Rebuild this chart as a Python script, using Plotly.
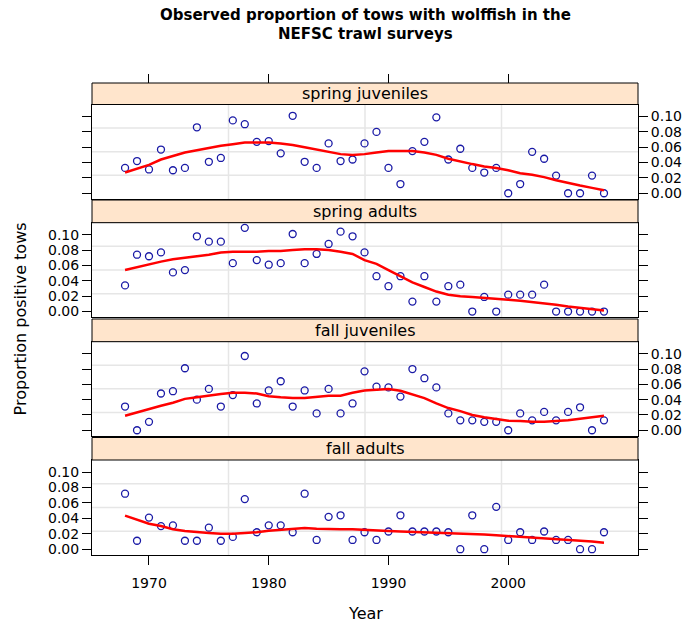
import plotly.graph_objects as go

# ---- data -------------------------------------------------------------
years = list(range(1968, 2009))

panel_names = ["spring juveniles", "spring adults", "fall juveniles", "fall adults"]

spring_juv = [0.033, 0.042, 0.031, 0.057, 0.030, 0.033, 0.086, 0.041, 0.046, 0.095,
              0.090, 0.067, 0.068, 0.052, 0.101, 0.041, 0.033, 0.065, 0.042, 0.044,
              0.065, 0.080, 0.033, 0.012, 0.055, 0.067, 0.099, 0.044, 0.058, 0.033,
              0.027, 0.033, 0.000, 0.012, 0.054, 0.045, 0.023, 0.000, 0.000, 0.023,
              0.000]
spring_juv_fit = [0.027, 0.032, 0.037, 0.044, 0.049, 0.053, 0.056, 0.059, 0.062, 0.064,
                  0.066, 0.066, 0.066, 0.065, 0.063, 0.060, 0.057, 0.054, 0.051, 0.050,
                  0.051, 0.053, 0.055, 0.055, 0.055, 0.053, 0.050, 0.045, 0.041, 0.038,
                  0.035, 0.033, 0.030, 0.026, 0.024, 0.021, 0.017, 0.013, 0.010, 0.007,
                  0.004]

spring_adult = [0.034, 0.074, 0.072, 0.077, 0.051, 0.054, 0.098, 0.091, 0.091, 0.063,
                0.109, 0.067, 0.061, 0.063, 0.101, 0.063, 0.075, 0.088, 0.104, 0.098,
                0.077, 0.046, 0.033, 0.046, 0.013, 0.046, 0.013, 0.033, 0.035, 0.000,
                0.019, 0.000, 0.022, 0.022, 0.022, 0.035, 0.000, 0.000, 0.000, 0.000,
                0.000]
spring_adult_fit = [0.054, 0.058, 0.061, 0.065, 0.068, 0.070, 0.072, 0.074, 0.077, 0.078,
                    0.078, 0.078, 0.079, 0.079, 0.080, 0.081, 0.081, 0.080, 0.078, 0.075,
                    0.067, 0.062, 0.054, 0.046, 0.038, 0.032, 0.026, 0.022, 0.020, 0.019,
                    0.018, 0.017, 0.0155, 0.014, 0.0125, 0.011, 0.0087, 0.0065, 0.0048, 0.0035,
                    0.0013]

fall_juv = [0.031, 0.000, 0.011, 0.048, 0.051, 0.081, 0.040, 0.054, 0.031, 0.046,
            0.097, 0.035, 0.052, 0.064, 0.031, 0.052, 0.022, 0.054, 0.022, 0.035,
            0.077, 0.057, 0.056, 0.044, 0.080, 0.068, 0.056, 0.022, 0.013, 0.013,
            0.011, 0.011, 0.000, 0.022, 0.013, 0.024, 0.013, 0.024, 0.030, 0.000,
            0.013]
fall_juv_fit = [0.019, 0.0235, 0.028, 0.032, 0.036, 0.041, 0.043, 0.0455, 0.0475, 0.049,
                0.049, 0.048, 0.0445, 0.043, 0.042, 0.042, 0.0435, 0.045, 0.045, 0.049,
                0.052, 0.053, 0.054, 0.0515, 0.0465, 0.042, 0.035, 0.029, 0.025, 0.020,
                0.017, 0.015, 0.0125, 0.012, 0.011, 0.011, 0.012, 0.013, 0.015, 0.017,
                0.019]

fall_adult = [0.072, 0.011, 0.041, 0.030, 0.031, 0.011, 0.011, 0.028, 0.011, 0.016,
              0.065, 0.022, 0.031, 0.031, 0.022, 0.072, 0.012, 0.042, 0.044, 0.012,
              0.022, 0.012, 0.023, 0.044, 0.023, 0.023, 0.023, 0.022, 0.000, 0.044,
              0.000, 0.055, 0.012, 0.022, 0.012, 0.023, 0.012, 0.012, 0.000, 0.000,
              0.022]
fall_adult_fit = [0.0435, 0.038, 0.033, 0.030, 0.026, 0.0235, 0.022, 0.021, 0.020, 0.020,
                  0.021, 0.022, 0.024, 0.025, 0.026, 0.0275, 0.0265, 0.026, 0.026, 0.026,
                  0.025, 0.024, 0.0235, 0.023, 0.0225, 0.022, 0.021, 0.0205, 0.020, 0.0195,
                  0.019, 0.018, 0.017, 0.016, 0.0155, 0.0145, 0.013, 0.012, 0.0115, 0.010,
                  0.0085]

observed = [spring_juv, spring_adult, fall_juv, fall_adult]
smoothed = [spring_juv_fit, spring_adult_fit, fall_juv_fit, fall_adult_fit]

x_ticks = [1970, 1980, 1990, 2000]
y_ticks = [0.00, 0.02, 0.04, 0.06, 0.08, 0.10]
x_range = [1965.24, 2010.84]
y_range = [-0.0075, 0.1157]

title_lines = ["Observed proportion of tows with wolffish in the", "NEFSC trawl surveys"]

# ---- layout geometry (pixels) -----------------------------------------
W, H = 694, 625
L, R = 92, 641
TOP, BOT = 83, 555
strip_top = [83, 200, 319, 437.5]
panel_top = [104.5, 222.7, 341.7, 460]
panel_bot = [199, 317.3, 436, 555]
title_y = [15, 34]


def py(p):
    return (BOT - p) / (BOT - TOP)


def px(p):
    return (p - L) / (R - L)


def sfx(n):
    return "" if n == 1 else str(n)


FONT = "DejaVu Sans"
POINT_COL = "#1A1AA6"
GRID_COL = "#E6E6E6"
STRIP_COL = "#FFE5CC"

fig = go.Figure()

for i, (obs, fit) in enumerate(zip(observed, smoothed)):
    s = sfx(i + 1)
    fig.add_trace(go.Scatter(
        x=years, y=obs, mode="markers",
        marker=dict(symbol="circle-open", size=7, color=POINT_COL,
                    line=dict(width=1.3, color=POINT_COL)),
        xaxis="x" + s, yaxis="y" + s, showlegend=False, hoverinfo="x+y"))
    fig.add_trace(go.Scatter(
        x=years, y=fit, mode="lines",
        line=dict(color="#FF0000", width=2.5),
        xaxis="x" + s, yaxis="y" + s, showlegend=False, hoverinfo="skip"))

# empty trace that carries the top tick axis
fig.add_trace(go.Scatter(x=[], y=[], xaxis="x5", yaxis="y",
                         showlegend=False, hoverinfo="skip"))

layout = dict(
    width=W, height=H,
    margin=dict(l=L, r=W - R, t=TOP, b=H - BOT, pad=0),
    paper_bgcolor="white", plot_bgcolor="white",
    font=dict(family=FONT, size=14, color="black"),
    showlegend=False,
)

shapes = []
annotations = []

for i in range(4):
    n = i + 1
    s = sfx(n)
    is_bottom = n == 4
    layout["xaxis" + s] = dict(
        domain=[0, 1], range=x_range, anchor="y" + s,
        showline=True, linecolor="black", linewidth=1, mirror=True,
        showgrid=False, zeroline=False,
        ticks="outside" if is_bottom else "", ticklen=9, tickwidth=1,
        tickcolor="black", tickvals=x_ticks,
        showticklabels=is_bottom, tickfont=dict(size=14),
        ticklabelstandoff=6,
    )
    layout["yaxis" + s] = dict(
        domain=[py(panel_bot[i]), py(panel_top[i])], range=y_range,
        anchor="x" + s, side="right" if n in (1, 3) else "left",
        showline=True, linecolor="black", linewidth=1, mirror="ticks",
        showgrid=False, zeroline=False,
        ticks="outside", ticklen=9, tickwidth=1, tickcolor="black",
        tickvals=y_ticks, tickformat=".2f", tickfont=dict(size=14),
    )

    # reference grid: three lines splitting each axis range into quarters
    for q in (1, 2, 3):
        xv = x_range[0] + q * (x_range[1] - x_range[0]) / 4
        yv = y_range[0] + q * (y_range[1] - y_range[0]) / 4
        shapes.append(dict(type="line", xref="x" + s, yref="y" + s + " domain",
                           x0=xv, x1=xv, y0=0, y1=1, layer="below",
                           line=dict(color=GRID_COL, width=1.5)))
        shapes.append(dict(type="line", xref="x" + s + " domain", yref="y" + s,
                           x0=0, x1=1, y0=yv, y1=yv, layer="below",
                           line=dict(color=GRID_COL, width=1.5)))

    # strip header
    shapes.append(dict(type="rect", xref="paper", yref="paper",
                       x0=0, x1=1, y0=py(panel_top[i]), y1=py(strip_top[i]),
                       fillcolor=STRIP_COL, line=dict(color="black", width=1),
                       layer="above"))
    annotations.append(dict(text=panel_names[i], xref="paper", yref="paper",
                            x=0.5, y=py((panel_top[i] + strip_top[i]) / 2),
                            xanchor="center", yanchor="middle", showarrow=False,
                            font=dict(family=FONT, size=16, color="black")))

# tick marks along the top edge of the panel stack
layout["xaxis5"] = dict(
    overlaying="x", range=x_range, anchor="free", position=1, side="top",
    showline=False, showgrid=False, zeroline=False,
    ticks="outside", ticklen=9, tickwidth=1, tickcolor="black",
    tickvals=x_ticks, showticklabels=False,
)

for line, ty in zip(title_lines, title_y):
    annotations.append(dict(
        text="<b>" + line + "</b>", xref="paper", yref="paper",
        x=0.5, y=py(ty), xanchor="center", yanchor="middle", showarrow=False,
        borderpad=0, font=dict(family=FONT, size=15, color="black")))
annotations.append(dict(
    text="Year", xref="paper", yref="paper", x=0.5, y=py(613),
    xanchor="center", yanchor="middle", showarrow=False,
    font=dict(family=FONT, size=16, color="black")))
annotations.append(dict(
    text="Proportion positive tows", xref="paper", yref="paper",
    x=px(20), y=py(319), xanchor="center", yanchor="middle", textangle=-90,
    showarrow=False, font=dict(family=FONT, size=16, color="black")))

layout["shapes"] = shapes
layout["annotations"] = annotations
fig.update_layout(**layout)

fig.write_html("out.html")
